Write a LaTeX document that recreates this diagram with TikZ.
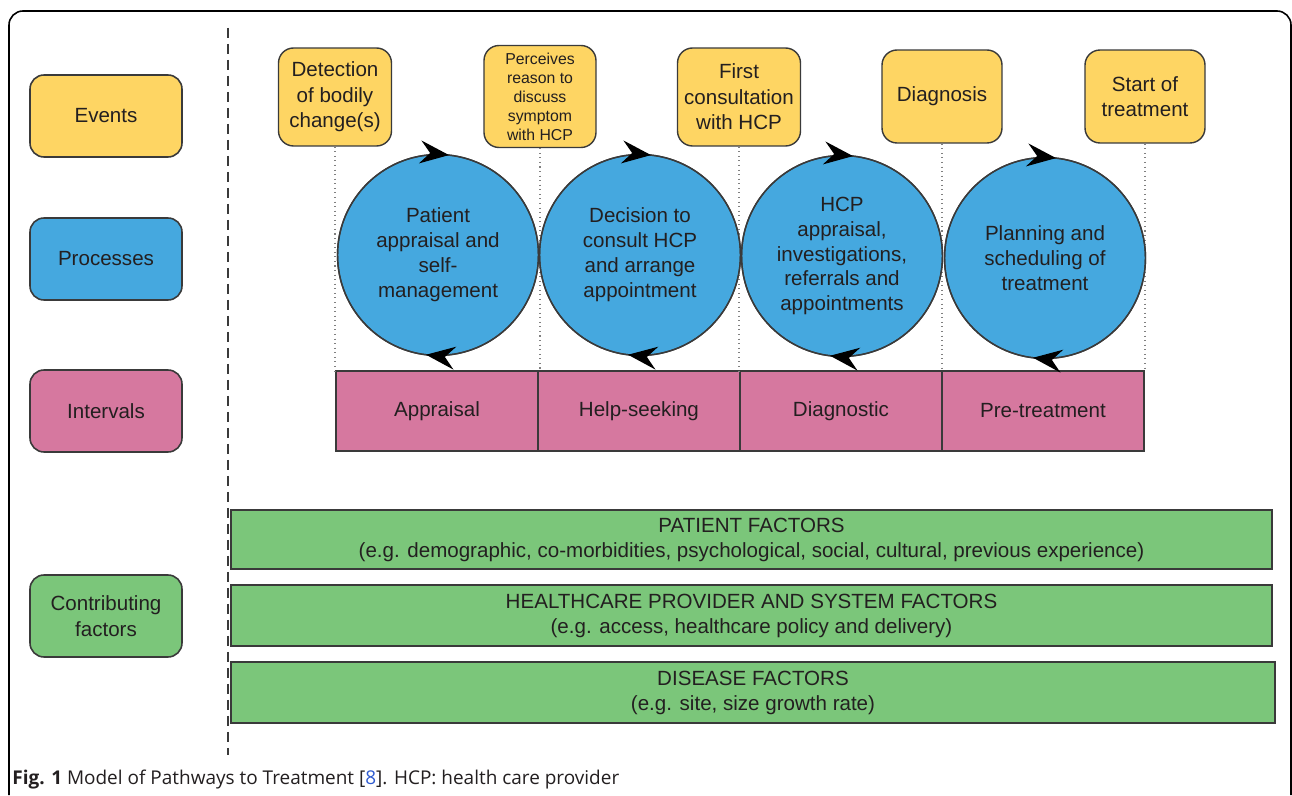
\documentclass[tikz,border=0pt]{standalone}
\usepackage{fontspec}
\setmainfont{Liberation Sans}
\newfontfamily\captionfont{Open Sans}
\usepackage{tikz}
\usetikzlibrary{arrows.meta}
\usetikzlibrary{decorations.markings}
\usetikzlibrary{positioning}
\definecolor{eventyellow}{HTML}{FED563}
\definecolor{processblue}{HTML}{45A8DF}
\definecolor{intervalpink}{HTML}{D6789F}
\definecolor{factorgreen}{HTML}{7BC67A}
\definecolor{boxline}{HTML}{3A3A3A}
\definecolor{inktext}{HTML}{231F20}
\definecolor{reflink}{HTML}{2F5BD0}
\tikzset{label box/.style = {draw = boxline, line width = 0.9pt, rounded corners = 0.28cm,
                             minimum width = 3.04cm, minimum height = 1.64cm, align = center,
                             text = inktext, font = \fontsize{11.7}{14.5}\selectfont}}
\tikzset{event/.style = {draw = boxline, fill = eventyellow, line width = 0.8pt,
                         rounded corners = 0.3cm, minimum height = 1.96cm, inner sep = 1pt,
                         align = center, text = inktext, font = \fontsize{11.7}{14.5}\selectfont}}
\tikzset{process/.style = {circle, draw = boxline, fill = processblue, line width = 0.8pt,
                           minimum size = 4.02cm, inner sep = 0, align = center,
                           text = inktext, font = \fontsize{11.7}{14.2}\selectfont}}
\tikzset{interval/.style = {draw = boxline, fill = intervalpink, line width = 0.8pt,
                            minimum width = 4.04cm, minimum height = 1.6cm, outer sep = 0,
                            text = inktext, font = \fontsize{11.7}{14}\selectfont}}
\tikzset{factor/.style = {draw = boxline, fill = factorgreen, line width = 0.8pt,
                          minimum width = 20.82cm, align = center,
                          text = inktext, font = \fontsize{11.7}{14.2}\selectfont}}
\tikzset{guide/.style = {draw = gray, dotted, line width = 0.6pt}}
\tikzset{cycle arrows/.style = {draw = boxline, line width = 0.8pt,
                                decoration = {markings,
                                  mark = at position 0.0175 with {\arrow{Stealth[length = 0.58cm, width = 0.46cm, inset = 0.2cm, color = black]}},
                                  mark = at position 0.519 with {\arrow{Stealth[length = 0.58cm, width = 0.46cm, inset = 0.2cm, color = black]}}},
                                postaction = {decorate}}}

\begin{document}
\begin{tikzpicture}[x = 0.02cm, y = 0.02cm]
    \useasboundingbox (0, 0) rectangle (1292, 795);
    \fill [white] (0, 0) rectangle (1292, 795);
    \draw [line width = 0.9pt, rounded corners = 0.28cm] (9, 0) -- (9, 784) -- (1291, 784) -- (1291, 0);
    \draw [boxline, line width = 0.8pt, dash pattern = on 0.2cm off 0.12cm] (228, 767) -- (228, 40);

    \node [label box, fill = eventyellow] (events) at (106, 679) {Events};
    \node [label box, fill = processblue] (processes) at (106, 536) {Processes};
    \node [label box, fill = intervalpink] (intervals) at (106, 384) {Intervals};
    \node [label box, fill = factorgreen] (factors) at (106, 179) {Contributing\\factors};

    \node [event, minimum width = 2.26cm] (detect) at (335, 698) {Detection\\of bodily\\change(s)};
    \node [event, minimum width = 2.24cm, minimum height = 2.04cm, font = \fontsize{9}{10.8}\selectfont] (perceive) at (540, 698.5) {Perceives\\reason to\\discuss\\symptom\\with HCP};
    \node [event, minimum width = 2.46cm] (consult) at (739, 698) {First\\consultation\\with HCP};
    \node [event, minimum width = 2.4cm, minimum height = 1.86cm] (diagnosis) at (942, 698.5) {Diagnosis};
    \node [event, minimum width = 2.4cm, minimum height = 1.86cm] (start) at (1145, 698.5) {Start of\\treatment};

    \node [interval] (appraisal) at (437, 384) {Appraisal};
    \node [interval, right = 0pt of appraisal] (help) {Help-seeking};
    \node [interval, right = 0pt of help] (diagnostic) {Diagnostic};
    \node [interval, right = 0pt of diagnostic] (pretreat) {Pre-treatment};

    \draw [guide] (detect.south) -- (detect.south |- appraisal.north);
    \draw [guide] (perceive.south) -- (perceive.south |- help.north);
    \draw [guide] (consult.south) -- (consult.south |- diagnostic.north);
    \draw [guide] (diagnosis.south) -- (diagnosis.south |- pretreat.north);
    \draw [guide] (start.south) -- (start.south |- pretreat.north);

    \node [process] (selfcare) at (438, 540) {Patient\\appraisal and\\self-\\management};
    \node [process] (decide) at (640, 540) {Decision to\\consult HCP\\and arrange\\appointment};
    \node [process] (investigate) at (842, 539) {HCP\\appraisal,\\investigations,\\referrals and\\appointments};
    \node [process] (planning) at (1045, 537) {Planning and\\scheduling of\\treatment};
    \draw [cycle arrows] (selfcare.center) ++(0, 100.5) arc [start angle = 90, end angle = -270, radius = 2.01cm];
    \draw [cycle arrows] (decide.center) ++(0, 100.5) arc [start angle = 90, end angle = -270, radius = 2.01cm];
    \draw [cycle arrows] (investigate.center) ++(0, 100.5) arc [start angle = 90, end angle = -270, radius = 2.01cm];
    \draw [cycle arrows] (planning.center) ++(0, 100.5) arc [start angle = 90, end angle = -270, radius = 2.01cm];

    \node [factor, minimum height = 1.18cm] (patient) at (751.5, 255.5) {PATIENT FACTORS\\(e.g. demographic, co-morbidities, psychological, social, cultural, previous experience)};
    \node [factor, minimum height = 1.22cm] (provider) at (751.5, 179.5) {HEALTHCARE PROVIDER AND SYSTEM FACTORS\\(e.g. access, healthcare policy and delivery)};
    \node [factor, minimum width = 20.88cm, minimum height = 1.22cm] (disease) at (753, 102.5) {DISEASE FACTORS\\(e.g. site, size growth rate)};

    \node [anchor = west, inner sep = 0, text = inktext, font = \captionfont\fontsize{10.8}{13}\selectfont] (caption) at (12, 15)
      {\textbf{Fig. 1} Model of Pathways to Treatment [\textcolor{reflink}{8}]. HCP: health care provider};
  \end{tikzpicture}
\end{document}
